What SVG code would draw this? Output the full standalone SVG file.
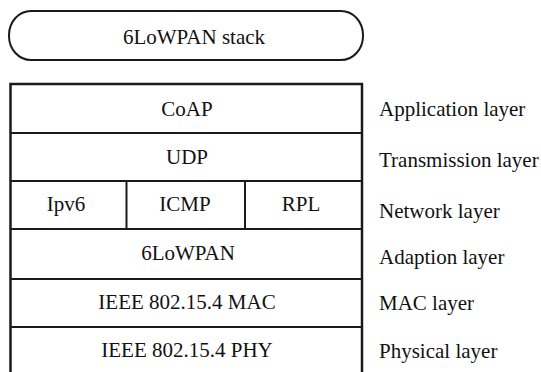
<svg xmlns="http://www.w3.org/2000/svg" width="541" height="372" viewBox="0 0 541 372">
<style>
text{font-family:"Liberation Serif","Times New Roman",serif;font-size:21px;fill:#111}
.c{text-anchor:middle}
.b{fill:#fff;stroke:#1a1a1a;stroke-width:2}
.o{fill:#fff;stroke:#1a1a1a;stroke-width:2.5}
.ln{stroke:#1a1a1a;stroke-width:2;fill:none}
</style>
<rect width="541" height="372" fill="#fff"/>
<g id="title">
<rect class="b" x="9" y="11" width="354" height="49" rx="22" ry="24"/>
<text class="c" x="194" y="44">6LoWPAN stack</text>
</g>
<g id="stack">
<rect class="o" x="10.5" y="84" width="351.5" height="300"/>
</g>
<g id="connectors">
<line class="ln" x1="10.5" y1="133" x2="362" y2="133"/>
<line class="ln" x1="10.5" y1="181" x2="362" y2="181"/>
<line class="ln" x1="10.5" y1="229" x2="362" y2="229"/>
<line class="ln" x1="10.5" y1="279" x2="362" y2="279"/>
<line class="ln" x1="10.5" y1="327" x2="362" y2="327" stroke-width="2.5"/>
<line class="ln" x1="126.5" y1="181" x2="126.5" y2="229"/>
<line class="ln" x1="245" y1="181" x2="245" y2="229"/>
</g>
<g id="coap"><text class="c" x="187" y="116">CoAP</text></g>
<g id="udp"><text class="c" x="187" y="164">UDP</text></g>
<g id="ipv6"><text class="c" x="66" y="211">Ipv6</text></g>
<g id="icmp"><text class="c" x="185" y="211">ICMP</text></g>
<g id="rpl"><text class="c" x="301" y="211">RPL</text></g>
<g id="lowpan"><text class="c" x="188" y="260">6LoWPAN</text></g>
<g id="mac"><text class="c" x="187" y="309">IEEE 802.15.4 MAC</text></g>
<g id="phy"><text class="c" x="187" y="357">IEEE 802.15.4 PHY</text></g>
<g id="labels">
<text x="379" y="116">Application layer</text>
<text x="379" y="167">Transmission layer</text>
<text x="379" y="218">Network layer</text>
<text x="379" y="264">Adaption layer</text>
<text x="379" y="310">MAC layer</text>
<text x="379" y="358">Physical layer</text>
</g>
</svg>
